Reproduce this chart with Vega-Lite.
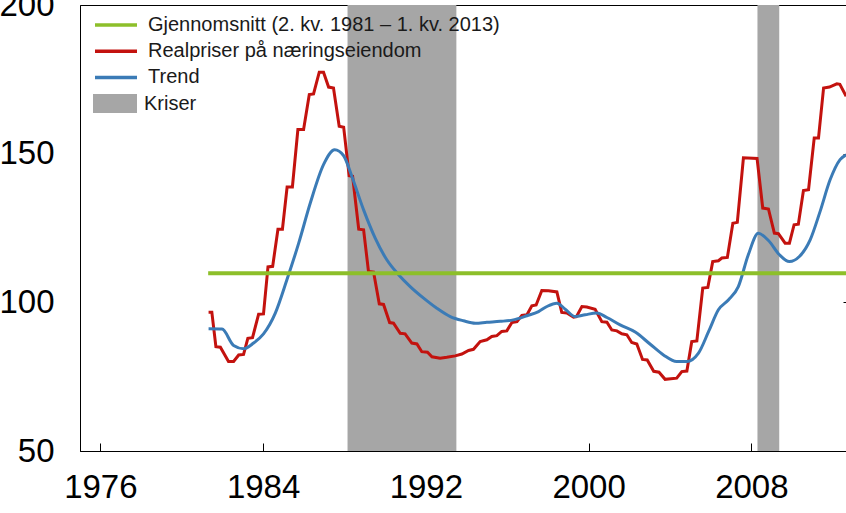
{
  "$schema": "https://vega.github.io/schema/vega-lite/v6.json",
  "width": 768,
  "height": 446,
  "autosize": {"type": "none"},
  "padding": {"left": 80, "top": 5, "right": 0, "bottom": 62},
  "background": "white",
  "config": {
    "view": {"stroke": "black", "strokeWidth": 1},
    "font": "Liberation Sans",
    "axis": {"grid": false, "title": null, "domainColor": "black", "tickColor": "black", "labelColor": "black", "labelFont": "Liberation Sans", "labelFontSize": 33}
  },
  "datasets": {
    "crises": [
      {"start": 1988.15, "end": 1993.5, "label": "Kriser"},
      {"start": 2008.3, "end": 2009.37, "label": "Kriser"}
    ],
    "avg": [
      {"year": 1981.3, "value": 109.8, "series": "Gjennomsnitt (2. kv. 1981 – 1. kv. 2013)"},
      {"year": 2012.75, "value": 109.8, "series": "Gjennomsnitt (2. kv. 1981 – 1. kv. 2013)"}
    ],
    "real": [
      {"year": 1981.32, "value": 96.7}, {"year": 1981.48, "value": 96.7}, {"year": 1981.68, "value": 85.1}, {"year": 1981.9, "value": 84.9},
      {"year": 1982.3, "value": 80.1}, {"year": 1982.55, "value": 80.1}, {"year": 1982.8, "value": 82.3}, {"year": 1983.04, "value": 82.5},
      {"year": 1983.25, "value": 87.9}, {"year": 1983.48, "value": 88.1}, {"year": 1983.78, "value": 96.0}, {"year": 1984.02, "value": 96.1},
      {"year": 1984.24, "value": 111.9}, {"year": 1984.47, "value": 112.1}, {"year": 1984.73, "value": 124.6}, {"year": 1984.95, "value": 124.6},
      {"year": 1985.18, "value": 138.8}, {"year": 1985.44, "value": 138.8}, {"year": 1985.71, "value": 158.1}, {"year": 1985.99, "value": 158.1},
      {"year": 1986.27, "value": 169.9}, {"year": 1986.48, "value": 170.1}, {"year": 1986.76, "value": 177.4}, {"year": 1986.97, "value": 177.4},
      {"year": 1987.22, "value": 172.4}, {"year": 1987.46, "value": 172.1}, {"year": 1987.74, "value": 159.2}, {"year": 1987.96, "value": 158.9},
      {"year": 1988.23, "value": 142.6}, {"year": 1988.4, "value": 142.4}, {"year": 1988.7, "value": 124.6}, {"year": 1988.94, "value": 124.4},
      {"year": 1989.18, "value": 110.4}, {"year": 1989.43, "value": 110.2}, {"year": 1989.71, "value": 99.5}, {"year": 1989.92, "value": 99.3},
      {"year": 1990.22, "value": 93.2}, {"year": 1990.41, "value": 93.0}, {"year": 1990.74, "value": 89.6}, {"year": 1990.98, "value": 89.4},
      {"year": 1991.31, "value": 86.3}, {"year": 1991.56, "value": 86.0}, {"year": 1991.8, "value": 83.4}, {"year": 1992.08, "value": 83.2},
      {"year": 1992.3, "value": 81.7}, {"year": 1992.7, "value": 81.2}, {"year": 1993.03, "value": 81.5}, {"year": 1993.44, "value": 82.0},
      {"year": 1993.77, "value": 82.6}, {"year": 1994.1, "value": 83.8}, {"year": 1994.34, "value": 84.2}, {"year": 1994.67, "value": 86.8},
      {"year": 1995.0, "value": 87.4}, {"year": 1995.24, "value": 88.5}, {"year": 1995.49, "value": 88.8}, {"year": 1995.73, "value": 90.2},
      {"year": 1995.98, "value": 90.4}, {"year": 1996.23, "value": 93.2}, {"year": 1996.48, "value": 93.5}, {"year": 1996.72, "value": 95.6},
      {"year": 1996.97, "value": 95.8}, {"year": 1997.21, "value": 98.8}, {"year": 1997.42, "value": 99.1}, {"year": 1997.7, "value": 104.0},
      {"year": 1998.03, "value": 103.9}, {"year": 1998.44, "value": 103.5}, {"year": 1998.68, "value": 96.6}, {"year": 1998.93, "value": 96.4},
      {"year": 1999.26, "value": 95.0}, {"year": 1999.4, "value": 95.2}, {"year": 1999.67, "value": 98.6}, {"year": 1999.91, "value": 98.4},
      {"year": 2000.32, "value": 97.7}, {"year": 2000.65, "value": 93.5}, {"year": 2000.9, "value": 93.3}, {"year": 2001.14, "value": 90.7},
      {"year": 2001.39, "value": 90.4}, {"year": 2001.63, "value": 89.4}, {"year": 2001.88, "value": 89.1}, {"year": 2002.12, "value": 86.5},
      {"year": 2002.37, "value": 86.0}, {"year": 2002.65, "value": 80.8}, {"year": 2002.88, "value": 80.6}, {"year": 2003.2, "value": 76.8},
      {"year": 2003.46, "value": 76.5}, {"year": 2003.76, "value": 74.1}, {"year": 2004.33, "value": 74.5}, {"year": 2004.58, "value": 76.7},
      {"year": 2004.83, "value": 76.9}, {"year": 2005.07, "value": 86.8}, {"year": 2005.32, "value": 87.0}, {"year": 2005.61, "value": 104.8},
      {"year": 2005.86, "value": 105.0}, {"year": 2006.1, "value": 113.7}, {"year": 2006.38, "value": 114.0}, {"year": 2006.55, "value": 114.9},
      {"year": 2006.82, "value": 115.1}, {"year": 2007.09, "value": 126.6}, {"year": 2007.31, "value": 126.9}, {"year": 2007.61, "value": 148.6},
      {"year": 2008.28, "value": 148.4}, {"year": 2008.56, "value": 131.7}, {"year": 2008.84, "value": 131.4}, {"year": 2009.13, "value": 123.3},
      {"year": 2009.33, "value": 123.1}, {"year": 2009.66, "value": 119.9}, {"year": 2009.87, "value": 119.9}, {"year": 2010.1, "value": 126.1},
      {"year": 2010.31, "value": 126.3}, {"year": 2010.56, "value": 137.6}, {"year": 2010.81, "value": 137.9}, {"year": 2011.09, "value": 155.3},
      {"year": 2011.3, "value": 155.3}, {"year": 2011.55, "value": 172.1}, {"year": 2011.84, "value": 172.4}, {"year": 2012.2, "value": 173.5},
      {"year": 2012.35, "value": 173.3}, {"year": 2012.66, "value": 169.3}
    ],
    "trend": [
      {"year": 1981.32, "value": 91.1}, {"year": 1981.98, "value": 91.0}, {"year": 1982.55, "value": 85.5}, {"year": 1983.04, "value": 84.4},
      {"year": 1983.53, "value": 86.3}, {"year": 1984.02, "value": 89.4}, {"year": 1984.6, "value": 96.4}, {"year": 1985.17, "value": 107.6},
      {"year": 1985.75, "value": 119.9}, {"year": 1986.32, "value": 133.4}, {"year": 1986.97, "value": 146.3}, {"year": 1987.52, "value": 151.3},
      {"year": 1987.96, "value": 149.3}, {"year": 1988.36, "value": 142.4}, {"year": 1988.94, "value": 131.1}, {"year": 1989.51, "value": 121.6},
      {"year": 1990.08, "value": 114.3}, {"year": 1990.66, "value": 109.3}, {"year": 1991.23, "value": 105.3}, {"year": 1991.89, "value": 101.4},
      {"year": 1992.54, "value": 98.0}, {"year": 1993.2, "value": 95.2}, {"year": 1993.85, "value": 93.8}, {"year": 1994.43, "value": 93.0},
      {"year": 1995.0, "value": 93.3}, {"year": 1995.66, "value": 93.6}, {"year": 1996.3, "value": 94.1}, {"year": 1996.97, "value": 95.5},
      {"year": 1997.54, "value": 96.9}, {"year": 1997.95, "value": 98.6}, {"year": 1998.44, "value": 99.7}, {"year": 1998.85, "value": 97.7},
      {"year": 1999.34, "value": 95.2}, {"year": 1999.83, "value": 95.8}, {"year": 2000.4, "value": 96.4}, {"year": 2000.9, "value": 94.9},
      {"year": 2001.55, "value": 92.4}, {"year": 2002.29, "value": 90.0}, {"year": 2003.03, "value": 85.9}, {"year": 2003.68, "value": 82.3},
      {"year": 2004.33, "value": 80.1}, {"year": 2004.83, "value": 80.1}, {"year": 2005.4, "value": 82.9}, {"year": 2005.9, "value": 90.2},
      {"year": 2006.38, "value": 97.5}, {"year": 2006.87, "value": 100.8}, {"year": 2007.36, "value": 105.3}, {"year": 2007.85, "value": 116.0},
      {"year": 2008.34, "value": 123.2}, {"year": 2008.84, "value": 120.8}, {"year": 2009.38, "value": 116.0}, {"year": 2009.87, "value": 113.7},
      {"year": 2010.36, "value": 115.4}, {"year": 2010.89, "value": 121.0}, {"year": 2011.38, "value": 130.6}, {"year": 2011.87, "value": 141.2},
      {"year": 2012.36, "value": 148.0}, {"year": 2012.66, "value": 149.6}
    ]
  },
  "resolve": {"axis": {"y": "independent"}},
  "layer": [
    {
      "data": {"name": "crises"},
      "mark": {"type": "rect"},
      "encoding": {
        "x": {"field": "start", "type": "quantitative", "scale": {"domain": [1975.0, 2012.75], "nice": false, "zero": false},
          "axis": {"values": [1976, 1984, 1992, 2000, 2008], "format": "d", "tickSize": -8, "labelPadding": 28, "labelFlush": false, "labelOverlap": false}},
        "x2": {"field": "end"},
        "fill": {"field": "label", "type": "nominal", "scale": {"domain": ["Kriser"], "range": ["#a6a6a6"]},
          "legend": {"orient": "none", "legendX": 13, "legendY": 76.5, "title": null, "padding": 0, "symbolType": "M-1,-0.43H1V0.43H-1Z", "symbolSize": 1936, "symbolStrokeWidth": 0, "symbolOpacity": 1, "labelFontSize": 20, "labelFont": "Liberation Sans", "labelColor": "#1a1a1a", "labelOffset": 7, "labelLimit": 0}}
      }
    },
    {
      "data": {"name": "real"},
      "transform": [{"calculate": "'Realpriser på næringseiendom'", "as": "series"}],
      "mark": {"type": "line", "strokeWidth": 3, "interpolate": "linear"},
      "encoding": {
        "x": {"field": "year", "type": "quantitative"},
        "y": {"field": "value", "type": "quantitative", "scale": {"domain": [50, 200], "nice": false, "zero": false},
          "axis": {"orient": "left", "values": [50, 100, 150, 200], "ticks": false, "labelPadding": 26, "labelOverlap": false, "labelFlush": false}},
        "stroke": {"field": "series", "type": "nominal",
          "scale": {"domain": ["Gjennomsnitt (2. kv. 1981 – 1. kv. 2013)", "Realpriser på næringseiendom", "Trend"], "range": ["#8dbf2a", "#c3120e", "#3b7bb6"]},
          "legend": {"orient": "none", "legendX": 24, "legendY": 8, "title": null, "padding": 0, "symbolType": "M-2.1,0H2.1", "symbolSize": 400, "symbolStrokeWidth": 3.5, "labelFontSize": 20, "labelFont": "Liberation Sans", "labelColor": "#1a1a1a", "labelOffset": 20, "rowPadding": 4.2, "labelLimit": 0}}
      }
    },
    {
      "data": {"name": "trend"},
      "transform": [{"calculate": "'Trend'", "as": "series"}],
      "mark": {"type": "line", "strokeWidth": 3, "interpolate": "monotone"},
      "encoding": {
        "x": {"field": "year", "type": "quantitative"},
        "y": {"field": "value", "type": "quantitative",
          "axis": {"orient": "right", "values": [50, 100, 150, 200], "labels": false, "tickSize": -5, "domainColor": "black"}},
        "stroke": {"field": "series", "type": "nominal"}
      }
    },
    {
      "data": {"name": "avg"},
      "mark": {"type": "line", "strokeWidth": 4},
      "encoding": {
        "x": {"field": "year", "type": "quantitative"},
        "y": {"field": "value", "type": "quantitative", "axis": null},
        "stroke": {"field": "series", "type": "nominal"}
      }
    }
  ]
}
